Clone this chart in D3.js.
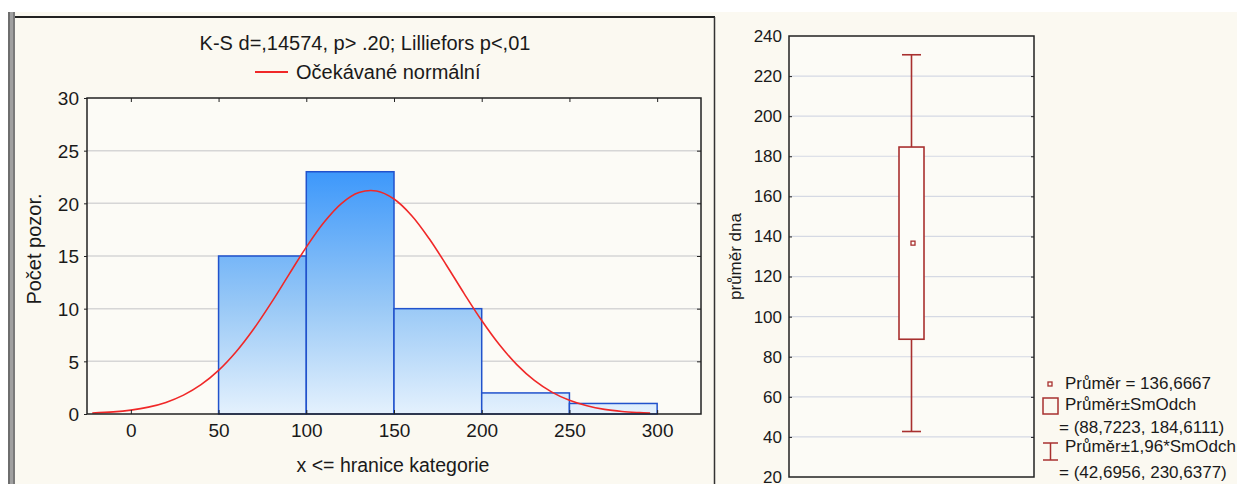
<!DOCTYPE html>
<html><head><meta charset="utf-8">
<script src="https://cdn.jsdelivr.net/npm/d3@7"></script>
<style>
html,body{margin:0;padding:0;background:#fff;}
text{font-family:"Liberation Sans",Arial,sans-serif;fill:#1a1a1a;}
</style></head>
<body><svg id="c" width="1237" height="484"></svg>
<script>
// ---- data ----
const binStarts = [50, 100, 150, 200, 250];
const binEnds   = [100, 150, 200, 250, 300];
const counts    = [15, 23, 10, 2, 1];
const xTicks = [0, 50, 100, 150, 200, 250, 300];
const yTicks = [0, 5, 10, 15, 20, 25, 30];
// expected normal curve
const normX = [-22,-10,0,10,20,30,40,50,60,70,80,90,100,110,120,130,140,150,160,170,180,190,200,210,220,230,240,250,260,270,280,290,296];
const normY = [0.09,0.2,0.37,0.65,1.1,1.79,2.78,4.14,5.91,8.07,10.55,13.21,15.84,18.18,19.98,21.02,21.17,20.41,18.85,16.66,14.1,11.43,8.87,6.59,4.69,3.19,2.08,1.3,0.78,0.44,0.24,0.13,0.08];
const titleText = "K-S d=,14574, p> .20; Lilliefors p<,01";
const legendText = "Očekávané normální";
const xLabel = "x <= hranice kategorie";
const yLabel = "Počet pozor.";

const boxCategory = ["průměr dna"];
const boxMean = [136.6667];
const boxSdLow = [88.7223];
const boxSdHigh = [184.6111];
const boxCiLow = [42.6956];
const boxCiHigh = [230.6377];
const boxYTicks = [20,40,60,80,100,120,140,160,180,200,220,240];
const boxLegend = ["Průměr = ", "Průměr±SmOdch", "Průměr±1,96*SmOdch"];

const svg = d3.select("#c");
const fmt = v => d3.format(".4f")(v).replace(".", ",");

// ---- backgrounds ----
svg.append("rect").attr("x",0).attr("y",0).attr("width",1237).attr("height",484).attr("fill","#fff");
svg.append("rect").attr("x",15).attr("y",12).attr("width",1222).attr("height",472).attr("fill","#fbf9f1");
svg.append("rect").attr("x",8).attr("y",12).attr("width",7).attr("height",472).attr("fill","#a0a0a0");
svg.append("rect").attr("x",8).attr("y",12).attr("width",2).attr("height",472).attr("fill","#6e6e6e");
svg.append("rect").attr("x",13).attr("y",12).attr("width",2).attr("height",472).attr("fill","#7a7a7a");
svg.append("line").attr("x1",15).attr("x2",715).attr("y1",17).attr("y2",17).attr("stroke","#222").attr("stroke-width",2);
svg.append("line").attr("x1",714.5).attr("x2",714.5).attr("y1",17).attr("y2",484).attr("stroke","#333").attr("stroke-width",1.5);

// ---- histogram ----
const L = {l:87, r:701, t:98, b:414};
const x = d3.scaleLinear().domain([-25,325]).range([L.l,L.r]);
const y = d3.scaleLinear().domain([0,30]).range([L.b,L.t]);

svg.append("rect").attr("x",L.l).attr("y",L.t).attr("width",L.r-L.l).attr("height",L.b-L.t).attr("fill","#fcfbf6");

const defs = svg.append("defs");
const grad = defs.append("linearGradient").attr("id","barGrad").attr("gradientUnits","userSpaceOnUse")
  .attr("x1",0).attr("x2",0).attr("y1",y(23)).attr("y2",y(0));
grad.append("stop").attr("offset","0").attr("stop-color","#3d98fb");
grad.append("stop").attr("offset","0.55").attr("stop-color","#98c8f6");
grad.append("stop").attr("offset","1").attr("stop-color","#e4f1fd");

// grid
svg.append("g").selectAll("line").data(yTicks.filter(v=>v>0&&v<30)).join("line")
  .attr("x1",L.l).attr("x2",L.r).attr("y1",d=>y(d)).attr("y2",d=>y(d))
  .attr("stroke","#d6d6d6").attr("stroke-width",1.5);

// bars
svg.append("g").selectAll("rect").data(counts).join("rect")
  .attr("x",(d,i)=>x(binStarts[i])).attr("width",(d,i)=>x(binEnds[i])-x(binStarts[i]))
  .attr("y",d=>y(d)).attr("height",d=>y(0)-y(d))
  .attr("fill","url(#barGrad)").attr("stroke","#2152cc").attr("stroke-width",1.5);

// normal curve
const line = d3.line().x((d,i)=>x(normX[i])).y(d=>y(d)).curve(d3.curveCatmullRom);
svg.append("path").datum(normY).attr("d",line).attr("fill","none").attr("stroke","#f02828").attr("stroke-width",1.6);

// axes
const axStyle = g => { g.select(".domain").remove(); g.selectAll("line").attr("stroke","#222"); g.selectAll("text").style("font-size","19px").attr("fill","#1a1a1a"); };
svg.append("g").attr("transform",`translate(${L.l},0)`)
  .call(d3.axisLeft(y).tickValues(yTicks).tickSize(3).tickPadding(5)).call(axStyle)
  .selectAll("text").attr("dy","0.36em");
svg.append("g").attr("transform",`translate(${L.r},0)`)
  .call(d3.axisLeft(y).tickValues(yTicks.filter(v=>v>0&&v<30)).tickSize(4).tickFormat("")).call(axStyle);
svg.append("g").attr("transform",`translate(0,${L.b})`)
  .call(d3.axisBottom(x).tickValues(xTicks).tickSize(-4).tickPadding(10)).call(axStyle);
svg.append("g").attr("transform",`translate(0,${L.t})`)
  .call(d3.axisBottom(x).tickValues(xTicks).tickSize(4).tickFormat("")).call(axStyle);

svg.append("rect").attr("x",L.l).attr("y",L.t).attr("width",L.r-L.l).attr("height",L.b-L.t)
  .attr("fill","none").attr("stroke","#222").attr("stroke-width",1.5);

// titles
svg.append("text").attr("x",365).attr("y",50).attr("text-anchor","middle").style("font-size","20px").text(titleText);
svg.append("line").attr("x1",255).attr("x2",288).attr("y1",72).attr("y2",72).attr("stroke","#f02828").attr("stroke-width",2);
svg.append("text").attr("x",296).attr("y",79).style("font-size","20px").text(legendText);
svg.append("text").attr("x",393).attr("y",472).attr("text-anchor","middle").style("font-size","19.5px").text(xLabel);
svg.append("text").attr("transform","translate(34,249) rotate(-90)").attr("text-anchor","middle")
  .attr("dominant-baseline","central").style("font-size","20px").text(yLabel);

// ---- box plot ----
const R = {l:789, r:1034, t:36, b:477};
const bx = d3.scalePoint().domain(boxCategory).range([R.l,R.r]).padding(0.5);
const by = d3.scaleLinear().domain([20,240]).range([R.b,R.t]);

svg.append("rect").attr("x",R.l).attr("y",R.t).attr("width",R.r-R.l).attr("height",R.b-R.t).attr("fill","#fcfbf6");
svg.append("g").selectAll("line").data(boxYTicks.filter(v=>v>20&&v<240)).join("line")
  .attr("x1",R.l).attr("x2",R.r).attr("y1",d=>by(d)).attr("y2",d=>by(d))
  .attr("stroke","#d5d9e4").attr("stroke-width",1.2);

const axStyle2 = g => { g.select(".domain").remove(); g.selectAll("line").attr("stroke","#222"); g.selectAll("text").style("font-size","17px").attr("fill","#1a1a1a"); };
svg.append("g").attr("transform",`translate(${R.l},0)`)
  .call(d3.axisLeft(by).tickValues(boxYTicks).tickSize(0).tickPadding(7)).call(axStyle2);
svg.append("g").attr("transform",`translate(${R.l},0)`)
  .call(d3.axisRight(by).tickValues(boxYTicks.filter(v=>v>20&&v<240)).tickSize(3).tickFormat("")).call(axStyle2);
svg.append("g").attr("transform",`translate(${R.r},0)`)
  .call(d3.axisLeft(by).tickValues(boxYTicks.filter(v=>v>20&&v<240)).tickSize(3).tickFormat("")).call(axStyle2);

const red = "#a8302f";
const g2 = svg.append("g").attr("stroke",red).attr("stroke-width",1.6).attr("fill","none");
boxCategory.forEach((c,i)=>{
  const cxx = bx(c);
  g2.append("line").attr("x1",cxx).attr("x2",cxx).attr("y1",by(boxCiHigh[i])).attr("y2",by(boxSdHigh[i]));
  g2.append("line").attr("x1",cxx).attr("x2",cxx).attr("y1",by(boxSdLow[i])).attr("y2",by(boxCiLow[i]));
  g2.append("line").attr("x1",cxx-9.5).attr("x2",cxx+9.5).attr("y1",by(boxCiHigh[i])).attr("y2",by(boxCiHigh[i]));
  g2.append("line").attr("x1",cxx-9.5).attr("x2",cxx+9.5).attr("y1",by(boxCiLow[i])).attr("y2",by(boxCiLow[i]));
  g2.append("rect").attr("x",cxx-12.5).attr("width",25).attr("y",by(boxSdHigh[i])).attr("height",by(boxSdLow[i])-by(boxSdHigh[i])).attr("fill","#fdfcf8");
  g2.append("rect").attr("x",cxx-0.5).attr("width",4).attr("y",by(boxMean[i])-2).attr("height",4).attr("stroke-width",1.3);
});

svg.append("rect").attr("x",R.l).attr("y",R.t).attr("width",R.r-R.l).attr("height",R.b-R.t)
  .attr("fill","none").attr("stroke","#222").attr("stroke-width",1.5);

svg.append("text").attr("transform",`translate(735,${(R.t+R.b)/2}) rotate(-90)`).attr("text-anchor","middle")
  .attr("dominant-baseline","central").style("font-size","17px").text(boxCategory[0]);

// legend
const lg = svg.append("g");
lg.append("rect").attr("x",1048).attr("y",382).attr("width",4).attr("height",4).attr("fill","none").attr("stroke",red).attr("stroke-width",1.3);
lg.append("text").attr("x",1065).attr("y",389).style("font-size","17px").text(boxLegend[0] + fmt(boxMean[0]));
lg.append("rect").attr("x",1043).attr("y",398).attr("width",15).attr("height",16).attr("fill","none").attr("stroke",red).attr("stroke-width",1.5);
lg.append("text").attr("x",1065).attr("y",410).style("font-size","17px").text(boxLegend[1]);
lg.append("text").attr("x",1059).attr("y",433).style("font-size","17px").text(`= (${fmt(boxSdLow[0])}, ${fmt(boxSdHigh[0])})`);
lg.append("line").attr("x1",1043).attr("x2",1058).attr("y1",443).attr("y2",443).attr("stroke",red).attr("stroke-width",1.5);
lg.append("line").attr("x1",1043).attr("x2",1058).attr("y1",460).attr("y2",460).attr("stroke",red).attr("stroke-width",1.5);
lg.append("line").attr("x1",1050.5).attr("x2",1050.5).attr("y1",443).attr("y2",460).attr("stroke",red).attr("stroke-width",1.5);
lg.append("text").attr("x",1065).attr("y",452).style("font-size","17px").text(boxLegend[2]);
lg.append("text").attr("x",1059).attr("y",478).style("font-size","17px").text(`= (${fmt(boxCiLow[0])}, ${fmt(boxCiHigh[0])})`);
</script></body></html>
